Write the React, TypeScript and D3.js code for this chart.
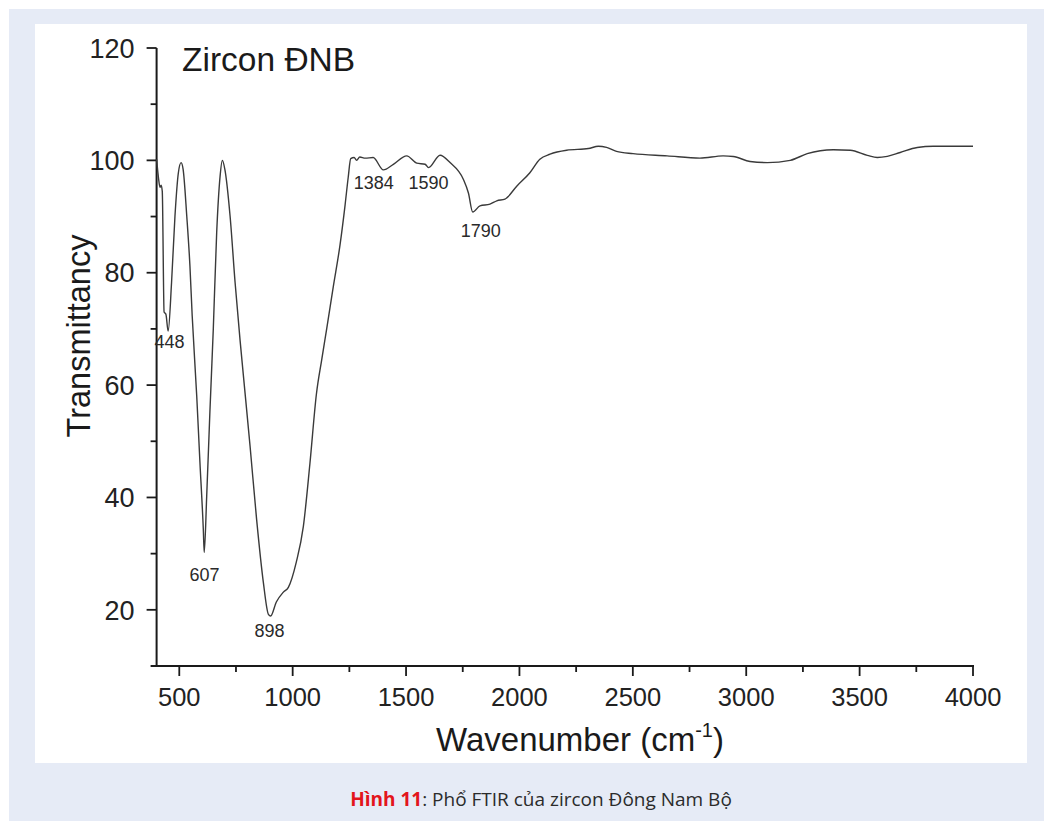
import React, { useEffect, useRef } from "react"
import * as d3 from "d3"

// FTIR spectrum of zircon (ĐNB)
const wavenumbers = [
  400, 408, 415, 420, 425, 433, 441, 451, 466, 481, 496, 508, 517, 533, 547, 557,
  577, 591, 606, 610, 621, 635, 650, 665, 680, 690, 701, 724, 746, 768, 782, 812,
  841, 871, 893, 903, 928, 958, 981, 1016, 1047, 1076, 1105, 1128, 1150, 1179, 1209,
  1231, 1245, 1256, 1271, 1282, 1296, 1320, 1355, 1400, 1444, 1503, 1547, 1584, 1599,
  1650, 1694, 1753, 1775, 1794, 1826, 1870, 1900, 1936, 1988, 2046, 2090, 2135, 2208,
  2304, 2348, 2384, 2428, 2501, 2651, 2796, 2898, 2943, 3017, 3093, 3194, 3269, 3384,
  3459, 3534, 3578, 3622, 3679, 3754, 3825, 4000,
]
const transmittance = [
  100.2, 97, 95.2, 95.6, 94.5, 73, 72.6, 69.6, 78.3, 90.1, 97.8, 99.6, 98.4, 90.1, 81.2, 72.3,
  58, 46.3, 34.3, 30.2, 40.3, 55.2, 70, 87.2, 97.2, 100, 98.4, 90.1, 78.3, 68, 62, 49.2,
  36.1, 24.8, 19.2, 18.9, 21.4, 23.1, 24, 28.5, 34.8, 46, 58.5, 64.5, 70, 77.5, 85,
  92, 97, 100.3, 100.5, 100, 100.6, 100.4, 100.5, 98.3, 99.3, 100.8, 99.5, 99.3, 98.7,
  100.9, 99.6, 96.6, 94.2, 90.8, 91.9, 92.2, 92.8, 93.1, 95.4, 97.8, 100.2, 101.1, 101.8,
  102.1, 102.5, 102.3, 101.6, 101.2, 100.8, 100.4, 100.8, 100.7, 99.8, 99.6, 100, 101.2, 101.9,
  101.8, 100.9, 100.5, 100.7, 101.4, 102.3, 102.5, 102.5,
]

const peakWavenumbers = [448, 607, 898, 1384, 1590, 1790]
const peakLabels = ["448", "607", "898", "1384", "1590", "1790"]
// label offsets relative to each band minimum (px)
const peakDx = [2, 1, 0, -6, 2, 9]
const peakDy = [17, 28, 21, 19, 21, 25]

const xTicks = [500, 1000, 1500, 2000, 2500, 3000, 3500, 4000]
const xMinorTicks = [750, 1250, 1750, 2250, 2750, 3250, 3750]
const yTicks = [20, 40, 60, 80, 100, 120]
const yMinorTicks = [30, 50, 70, 90, 110]

const W = 1044
const H = 821

export default function App() {
  const svgRef = useRef<SVGSVGElement>(null)

  useEffect(() => {
    if (!svgRef.current) return
    const svg = d3.select(svgRef.current)
    svg.selectAll("*").remove()

    // page background + white figure panel
    svg.append("rect").attr("width", W).attr("height", H).attr("fill", "#ffffff")
    svg.append("rect").attr("x", 9).attr("y", 9).attr("width", W - 9).attr("height", H - 9).attr("fill", "#e6ebf6")
    svg.append("rect").attr("x", 35).attr("y", 24).attr("width", 992).attr("height", 739).attr("fill", "#ffffff")

    const x = d3.scaleLinear().domain([400, 4000]).range([156.6, 973])
    const y = d3.scaleLinear().domain([10, 120]).range([666, 48])

    const axisColor = "#1a1a1a"
    const font = "'Liberation Sans', Arial, sans-serif"

    // axes lines
    svg.append("line")
      .attr("x1", x(400)).attr("x2", x(400))
      .attr("y1", y(120)).attr("y2", y(10))
      .attr("stroke", axisColor).attr("stroke-width", 2)
    svg.append("line")
      .attr("x1", x(400) - 6).attr("x2", x(4000) + 1)
      .attr("y1", y(10)).attr("y2", y(10))
      .attr("stroke", axisColor).attr("stroke-width", 2)

    // x ticks
    svg.selectAll(".xt").data(xTicks).enter().append("line")
      .attr("x1", d => x(d)).attr("x2", d => x(d))
      .attr("y1", y(10)).attr("y2", y(10) + 10)
      .attr("stroke", axisColor).attr("stroke-width", 1.8)
    svg.selectAll(".xm").data(xMinorTicks).enter().append("line")
      .attr("x1", d => x(d)).attr("x2", d => x(d))
      .attr("y1", y(10)).attr("y2", y(10) + 6)
      .attr("stroke", axisColor).attr("stroke-width", 1.8)
    svg.selectAll(".xl").data(xTicks).enter().append("text")
      .attr("x", d => x(d)).attr("y", y(10) + 40)
      .attr("text-anchor", "middle")
      .attr("font-family", font).attr("font-size", 25.5)
      .attr("fill", "#222")
      .text(d => d)

    // y ticks
    svg.selectAll(".yt").data(yTicks).enter().append("line")
      .attr("x1", x(400) - 10).attr("x2", x(400))
      .attr("y1", d => y(d)).attr("y2", d => y(d))
      .attr("stroke", axisColor).attr("stroke-width", 1.8)
    svg.selectAll(".ym").data(yMinorTicks).enter().append("line")
      .attr("x1", x(400) - 6).attr("x2", x(400))
      .attr("y1", d => y(d)).attr("y2", d => y(d))
      .attr("stroke", axisColor).attr("stroke-width", 1.8)
    svg.selectAll(".yl").data(yTicks).enter().append("text")
      .attr("x", x(400) - 22).attr("y", d => y(d))
      .attr("dy", "0.36em")
      .attr("text-anchor", "end")
      .attr("font-family", font).attr("font-size", 27)
      .attr("fill", "#222")
      .text(d => d)

    // axis titles
    svg.append("text")
      .attr("transform", `translate(90,336) rotate(-90)`)
      .attr("text-anchor", "middle")
      .attr("font-family", font).attr("font-size", 32.5)
      .attr("fill", "#1a1a1a")
      .text("Transmittancy")

    const xt = svg.append("text")
      .attr("x", 580).attr("y", 751)
      .attr("text-anchor", "middle")
      .attr("font-family", font).attr("font-size", 33)
      .attr("fill", "#1a1a1a")
    xt.append("tspan").text("Wavenumber (cm")
    xt.append("tspan").attr("font-size", 20).attr("dy", -14).text("-1")
    xt.append("tspan").attr("dy", 14).text(")")

    // sample name
    svg.append("text")
      .attr("x", 182).attr("y", 71)
      .attr("font-family", font).attr("font-size", 33.5)
      .attr("fill", "#1a1a1a")
      .text("Zircon ĐNB")

    // spectrum
    const pts = wavenumbers.map((w, i) => [w, transmittance[i]] as [number, number])
    const line = d3.line<[number, number]>()
      .x(d => x(d[0]))
      .y(d => y(d[1]))
      .curve(d3.curveMonotoneX)
    svg.append("path")
      .datum(pts)
      .attr("fill", "none")
      .attr("stroke", "#3a3a3a")
      .attr("stroke-width", 1.4)
      .attr("d", line)

    // band labels, placed under the local minimum nearest each band
    peakWavenumbers.forEach((pw, i) => {
      const near = pts.filter(p => Math.abs(p[0] - pw) <= 25)
      const minT = d3.min(near, p => p[1]) ?? 100
      svg.append("text")
        .attr("x", x(pw) + peakDx[i])
        .attr("y", y(minT) + peakDy[i])
        .attr("text-anchor", "middle")
        .attr("font-family", font).attr("font-size", 18)
        .attr("fill", "#2a2a2a")
        .text(peakLabels[i])
    })

    // caption
    const cap = svg.append("text")
      .attr("x", 541).attr("y", 806)
      .attr("text-anchor", "middle")
      .attr("font-family", "'Open Sans', sans-serif")
      .attr("font-size", 19)
    cap.append("tspan").attr("fill", "#e3151b").attr("font-weight", "bold").text("Hình 11")
    cap.append("tspan").attr("fill", "#2b2b2b").text(": Phổ FTIR của zircon Đông Nam Bộ")
  }, [])

  return (
    <svg
      ref={svgRef}
      width={W}
      height={H}
      viewBox={`0 0 ${W} ${H}`}
      style={{ position: "fixed", left: 0, top: 0, display: "block" }}
    />
  )
}
